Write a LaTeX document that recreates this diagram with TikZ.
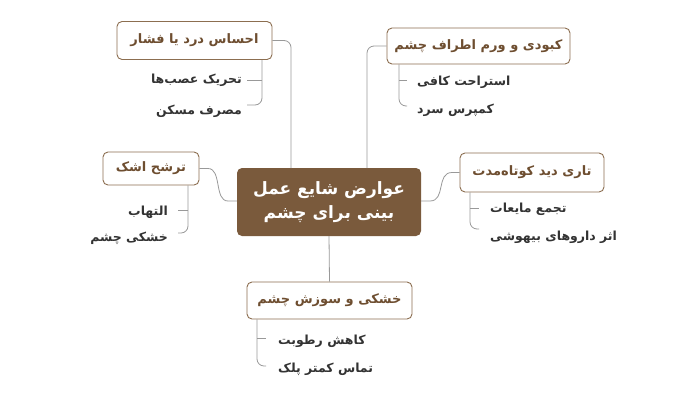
\documentclass[tikz,border=0pt]{standalone}
\usepackage{fontspec}
\newfontfamily\fa[Script=Arabic]{DejaVu Sans}
\TeXXeTstate=1
\definecolor{brn}{HTML}{7A5A3C}
\definecolor{brnline}{HTML}{8C6E50}
\definecolor{brntxt}{HTML}{6E4E30}
\definecolor{lf}{HTML}{333333}
\definecolor{ln}{HTML}{999999}
\tikzset{
  box/.style={draw=brnline, line width=0.9pt, fill=white, rounded corners=5pt, inner sep=0pt,
    font=\fa\bfseries\fontsize{13}{15}\selectfont, text=brntxt},
  hub/.style={fill=brn, rounded corners=5pt, inner sep=0pt, align=center,
    font=\fa\bfseries\fontsize{17}{24}\selectfont, text=white},
  leaf/.style={inner sep=0pt, font=\fa\bfseries\fontsize{12.5}{14}\selectfont, text=lf},
  conn/.style={draw=ln, line width=0.8pt},
  br/.style={draw=ln, line width=0.8pt, rounded corners=7pt}
}
\begin{document}
\begin{tikzpicture}[x=1pt,y=-1pt]
\useasboundingbox[fill=white] (0,0) rectangle (700,400);
% hub
\node[hub, minimum width=184pt, minimum height=68pt] (H) at (329,202)
  {\beginR عوارض شایع عمل\endR\\\beginR بینی برای چشم\endR};
% category boxes
\node[box, minimum width=155pt, minimum height=38pt] (A) at (194.5,40.5) {\beginR احساس درد یا فشار\endR};
\node[box, minimum width=183pt, minimum height=36pt] (B) at (478.5,46) {\beginR کبودی و ورم اطراف چشم\endR};
\node[box, minimum width=96pt, minimum height=33pt] (C) at (151,168.5) {\beginR ترشح اشک\endR};
\node[box, minimum width=144pt, minimum height=39pt] (D) at (532,172.5) {\beginR تاری دید کوتاه‌مدت\endR};
\node[box, minimum width=165pt, minimum height=37pt] (E) at (329.5,300.5) {\beginR خشکی و سوزش چشم\endR};
% hub connectors
\coordinate (ha) at (291,168);
\coordinate (hb) at (367,168);
\begin{scope}[on background layer/.style={}]
\draw[br] (ha) |- (A.east);
\draw[br] (hb) |- (B.west);
\draw[conn] (C.east) -- (208,168.5) .. controls (222,168.5) and (214,201) .. (228,201) -- (H.west |- 0,201);
\draw[conn] (H.east |- 0,201) -- (430,201) .. controls (446,201) and (436,172.5) .. (452,172.5) -- (D.west);
\draw[conn] (H.south) -- (E.north);
\end{scope}
% leaves A
\coordinate (ax) at (262,0);
\coordinate (a1) at (247,80);
\coordinate (a2) at (247,105);
\node[leaf, anchor=east] (a1t) at (242,80) {\beginR تحریک عصب‌ها\endR};
\node[leaf, anchor=east] (a2t) at (242,111) {\beginR مصرف مسکن\endR};
\draw[br] (A.south -| ax) |- (a2);
\draw[conn] (a1 -| ax) -- (a1);
% leaves B
\coordinate (bx) at (399,0);
\coordinate (b1) at (407,80);
\coordinate (b2) at (407,106);
\node[leaf, anchor=west] (b1t) at (417,82) {\beginR استراحت کافی\endR};
\node[leaf, anchor=west] (b2t) at (417,110) {\beginR کمپرس سرد\endR};
\draw[br] (B.south -| bx) |- (b2);
\draw[conn] (b1 -| bx) -- (b1);
% leaves C
\coordinate (cx) at (188,0);
\coordinate (c1) at (178,210);
\coordinate (c2) at (178,233);
\node[leaf, anchor=east] (c1t) at (168,212) {\beginR التهاب\endR};
\node[leaf, anchor=east] (c2t) at (168,238) {\beginR خشکی چشم\endR};
\draw[br] (C.south -| cx) |- (c2);
\draw[conn] (c1 -| cx) -- (c1);
% leaves D
\coordinate (dx) at (470,0);
\coordinate (d1) at (479,208);
\coordinate (d2) at (479,229);
\node[leaf, anchor=west] (d1t) at (490,209) {\beginR تجمع مایعات\endR};
\node[leaf, anchor=west] (d2t) at (490,237) {\beginR اثر داروهای بیهوشی\endR};
\draw[br] (D.south -| dx) |- (d2);
\draw[conn] (d1 -| dx) -- (d1);
% leaves E
\coordinate (ex) at (257,0);
\coordinate (e1) at (266,338);
\coordinate (e2) at (266,366);
\node[leaf, anchor=west] (e1t) at (278,341) {\beginR کاهش رطوبت\endR};
\node[leaf, anchor=west] (e2t) at (278,369) {\beginR تماس کمتر پلک\endR};
\draw[br] (E.south -| ex) |- (e2);
\draw[conn] (e1 -| ex) -- (e1);
\end{tikzpicture}
\end{document}
